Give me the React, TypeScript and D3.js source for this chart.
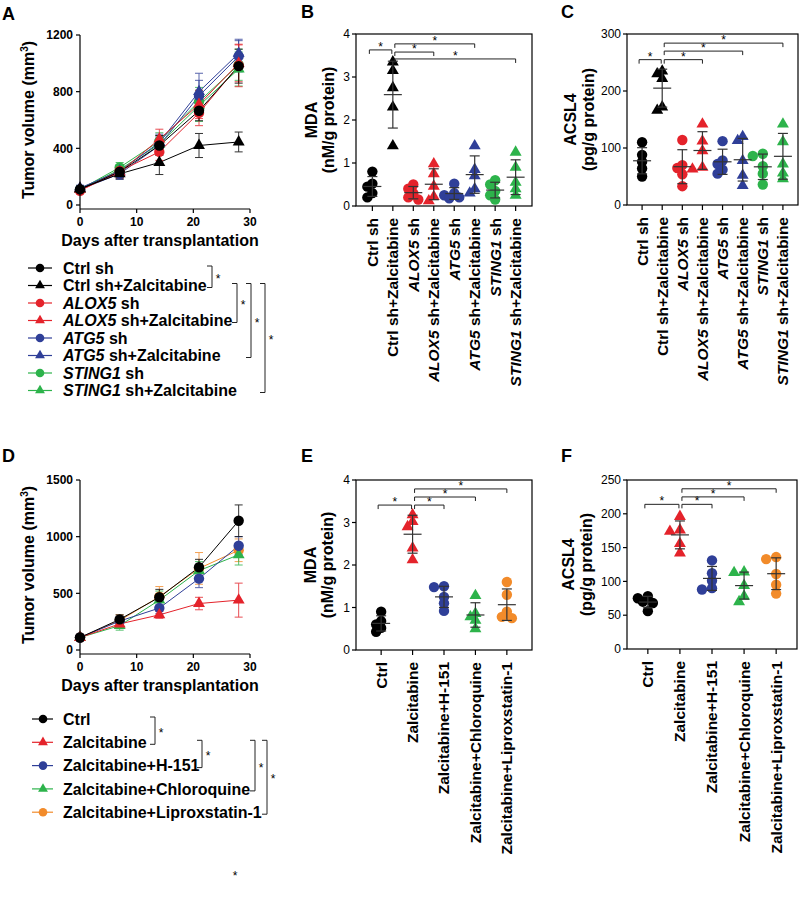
import React from 'react'
import * as d3 from 'd3'

const FONT = '"Liberation Sans", Arial, Helvetica, sans-serif'

const BLACK = '#000000'
const RED = '#e4232b'
const BLUE = '#2f3f98'
const GREEN = '#2db34b'
const ORANGE = '#f28b2a'
const BAR = '#333333'

const GENES = ['ALOX5', 'ATG5', 'STING1']

// ---- A: tumor growth, shRNA groups (mean, SD)
const days = [0, 7, 14, 21, 28]
const groupsA = ['Ctrl sh', 'Ctrl sh+Zalcitabine', 'ALOX5 sh', 'ALOX5 sh+Zalcitabine',
    'ATG5 sh', 'ATG5 sh+Zalcitabine', 'STING1 sh', 'STING1 sh+Zalcitabine']
const volCtrlSh = [110, 235, 420, 665, 980]
const volCtrlShZal = [115, 220, 300, 420, 445]
const volAlox5Sh = [100, 240, 375, 650, 985]
const volAlox5ShZal = [110, 230, 465, 710, 1000]
const volAtg5Sh = [110, 220, 420, 770, 1050]
const volAtg5ShZal = [120, 240, 440, 800, 1070]
const volSting1Sh = [110, 265, 450, 730, 990]
const volSting1ShZal = [110, 250, 430, 700, 960]
const sdCtrlSh = [20, 40, 70, 70, 120]
const sdCtrlShZal = [20, 35, 85, 85, 70]
const sdAlox5Sh = [20, 40, 60, 90, 150]
const sdAlox5ShZal = [20, 40, 70, 100, 130]
const sdAtg5Sh = [20, 40, 60, 110, 110]
const sdAtg5ShZal = [20, 40, 60, 130, 100]
const sdSting1Sh = [20, 35, 60, 100, 110]
const sdSting1ShZal = [20, 35, 60, 110, 120]

// ---- B / C: MDA and ACSL4 per mouse, shRNA groups
const mdaB = [
    [0.8, 0.52, 0.45, 0.3, 0.2],
    [3.35, 3.15, 2.75, 2.3, 1.4],
    [0.5, 0.4, 0.3, 0.2, 0.15],
    [0.98, 0.75, 0.46, 0.22, 0.12],
    [0.52, 0.3, 0.25, 0.2, 0.18],
    [1.4, 0.85, 0.7, 0.4, 0.3],
    [0.6, 0.5, 0.35, 0.25, 0.15],
    [1.25, 0.9, 0.55, 0.4, 0.25],
]
const acslC = [
    [110, 88, 76, 64, 50],
    [235, 230, 222, 172, 166],
    [114, 70, 65, 54, 33],
    [142, 112, 95, 66, 63],
    [112, 78, 72, 62, 55],
    [120, 113, 78, 52, 34],
    [90, 86, 68, 55, 36],
    [142, 111, 72, 56, 46],
]

// ---- D: tumor growth, drug groups
const groupsD = ['Ctrl', 'Zalcitabine', 'Zalcitabine+H-151', 'Zalcitabine+Chloroquine', 'Zalcitabine+Liproxstatin-1']
const volCtrl = [110, 270, 465, 730, 1140]
const volZal = [110, 230, 310, 410, 440]
const volH151 = [110, 255, 370, 630, 920]
const volChloro = [110, 215, 440, 700, 840]
const volLiprox = [110, 260, 470, 720, 880]
const sdCtrl = [20, 40, 70, 70, 140]
const sdZal = [20, 30, 30, 55, 150]
const sdH151 = [20, 40, 50, 80, 80]
const sdChloro = [20, 40, 80, 80, 90]
const sdLiprox = [20, 50, 90, 140, 100]

// ---- E / F
const mdaE = [
    [0.9, 0.68, 0.6, 0.52, 0.43],
    [3.18, 3.02, 2.9, 2.4, 2.12],
    [1.5, 1.48, 1.25, 1.1, 0.92],
    [1.28, 0.86, 0.78, 0.7, 0.5],
    [1.6, 1.3, 0.9, 0.78, 0.75],
]
const acslF = [
    [78, 75, 70, 68, 56],
    [196, 176, 174, 156, 142],
    [131, 112, 101, 90, 88],
    [114, 113, 94, 78, 70],
    [136, 133, 111, 95, 82],
]

const colorsA = [BLACK, BLACK, RED, RED, BLUE, BLUE, GREEN, GREEN]
const shapesA = ['circle', 'triangle', 'circle', 'triangle', 'circle', 'triangle', 'circle', 'triangle']
const colorsD = [BLACK, RED, BLUE, GREEN, ORANGE]
const shapesD = ['circle', 'triangle', 'circle', 'triangle', 'circle']

const symbolPath = (shape: string, size: number) =>
    d3.symbol().type(shape === 'circle' ? d3.symbolCircle : d3.symbolTriangle).size(size)() as string

const Marker = ({ shape, x, y, color, big = true }: any) => {
    const size = shape === 'circle' ? (big ? 85 : 58) : (big ? 62 : 42)
    return <path d={symbolPath(shape, size)} transform={`translate(${x},${y})`} fill={color} />
}

const Label = ({ text }: { text: string }) => {
    const gene = GENES.find(g => text.startsWith(g))
    if (!gene) return <>{text}</>
    return <><tspan fontStyle="italic">{gene}</tspan>{text.slice(gene.length)}</>
}

const Letter = ({ x, y, t }: any) =>
    <text x={x} y={y} fontSize={18} fontWeight="bold">{t}</text>

const Star = ({ x, y }: any) =>
    <text x={x} y={y} fontSize={12} textAnchor="middle">*</text>

function GrowthPanel({ y0, y1, yMax, yTicks, vals, errs, colors, shapes, tickBase, titleBase }: any) {
    const x = d3.scaleLinear().domain([0, 30]).range([80, 250])
    const y = d3.scaleLinear().domain([0, yMax]).range([y0, y1])
    const axisY = y0 + 4
    const line = d3.line<number>().x((_, i) => x(days[i])).y(d => y(d))
    const order = d3.range(vals.length).reverse()
    return (
        <g>
            {order.map(k => <path key={'l' + k} d={line(vals[k]) as string} fill="none" stroke={colors[k]} strokeWidth={1} />)}
            {order.map(k => vals[k].map((v: number, i: number) => {
                const cx = x(days[i]), hi = y(v + errs[k][i]), lo = y(v - errs[k][i])
                return (
                    <g key={`e${k}-${i}`} stroke={colors[k]} strokeWidth={1} opacity={0.8}>
                        <line x1={cx} x2={cx} y1={lo} y2={hi} />
                        <line x1={cx - 4} x2={cx + 4} y1={hi} y2={hi} />
                        <line x1={cx - 4} x2={cx + 4} y1={lo} y2={lo} />
                    </g>
                )
            }))}
            {order.map(k => vals[k].map((v: number, i: number) =>
                <Marker key={`m${k}-${i}`} shape={shapes[k]} x={x(days[i])} y={y(v)} color={colors[k]} />))}
            <g stroke="#000" strokeWidth={1.2}>
                <line x1={80} x2={80} y1={y1} y2={axisY} />
                <line x1={80} x2={250} y1={axisY} y2={axisY} />
                {yTicks.map((t: number) => <line key={'yt' + t} x1={76} x2={80} y1={y(t)} y2={y(t)} />)}
                {[0, 10, 20, 30].map(t => <line key={'xt' + t} x1={x(t)} x2={x(t)} y1={axisY} y2={axisY + 4} />)}
            </g>
            {yTicks.map((t: number) =>
                <text key={'yl' + t} x={73} y={y(t)} dy="0.35em" textAnchor="end" fontSize={12} fontWeight="bold">{t}</text>)}
            {[0, 10, 20, 30].map(t =>
                <text key={'xl' + t} x={x(t)} y={tickBase} textAnchor="middle" fontSize={12} fontWeight="bold">{t}</text>)}
            <text x={160} y={titleBase} textAnchor="middle" fontSize={16} fontWeight="bold">Days after transplantation</text>
            <text transform={`translate(28,${(y0 + y1) / 2}) rotate(-90)`} dy="0.35em" textAnchor="middle" fontSize={16} fontWeight="bold">
                Tumor volume (mm<tspan dy={-6} fontSize={10}>3</tspan><tspan dy={6}>)</tspan>
            </text>
        </g>
    )
}

function swarm(vals: number[], y: (v: number) => number) {
    const placed: { dx: number, py: number }[] = []
    const idx = d3.range(vals.length).sort((a, b) => vals[b] - vals[a])
    const out: number[] = new Array(vals.length).fill(0)
    for (const i of idx) {
        const py = y(vals[i])
        const cand = [0, -5, 5, -10, 10]
        let dx = 0
        for (const c of cand) {
            if (placed.every(p => Math.hypot(p.dx - c, p.py - py) >= 5.5)) { dx = c; break }
        }
        placed.push({ dx, py })
        out[i] = dx
    }
    return out
}

function ScatterPanel({ x0, x1, yTop, yBot, yMax, yTicks, cats, vals, colors, shapes, pad, sig, lab1, lab2, lx1, lx2 }: any) {
    const x = d3.scalePoint<string>().domain(cats).range([x0, x1]).padding(pad)
    const y = d3.scaleLinear().domain([0, yMax]).range([yBot, yTop])
    return (
        <g>
            {vals.map((g: number[], k: number) => {
                const cx = x(cats[k]) as number
                const off = swarm(g, y)
                return g.map((v, i) =>
                    <Marker key={`p${k}-${i}`} shape={shapes[k]} x={cx + off[i]} y={y(v)} color={colors[k]} />)
            })}
            {vals.map((g: number[], k: number) => {
                const cx = x(cats[k]) as number
                const m = d3.mean(g) as number, sd = d3.deviation(g) as number
                return (
                    <g key={'bar' + k} stroke={BAR} strokeWidth={1.2}>
                        <line x1={cx} x2={cx} y1={y(m - sd)} y2={y(m + sd)} />
                        <line x1={cx - 9} x2={cx + 9} y1={y(m)} y2={y(m)} />
                        <line x1={cx - 5} x2={cx + 5} y1={y(m + sd)} y2={y(m + sd)} />
                        <line x1={cx - 5} x2={cx + 5} y1={y(m - sd)} y2={y(m - sd)} />
                    </g>
                )
            })}
            <g stroke="#000" strokeWidth={1.2} fill="none">
                <rect x={x0} y={yTop} width={x1 - x0} height={yBot - yTop} />
                {yTicks.map((t: number) => <line key={'t' + t} x1={x0 - 4} x2={x0} y1={y(t)} y2={y(t)} />)}
                {cats.map((c: string) => <line key={'c' + c} x1={x(c)} x2={x(c)} y1={yBot} y2={yBot + 5} />)}
            </g>
            {yTicks.map((t: number) =>
                <text key={'tl' + t} x={x0 - 6} y={y(t)} dy="0.35em" textAnchor="end" fontSize={12}>{t}</text>)}
            {cats.map((c: string) =>
                <text key={'cl' + c} transform={`translate(${x(c)},${yBot + 12}) rotate(-90)`} dy="0.35em"
                    textAnchor="end" fontSize={15.5} fontWeight="bold"><Label text={c} /></text>)}
            {sig.map(([a, b, v]: number[], i: number) => {
                const xa = (x(cats[a]) as number) + (i === 0 ? -3 : 2)
                const xb = (x(cats[b]) as number) + (i === 0 ? -1 : 0)
                const yy = y(v)
                return (
                    <g key={'s' + i}>
                        <path d={`M${xa},${yy + 4}V${yy}H${xb}V${yy + 4}`} fill="none" stroke="#222" strokeWidth={1} />
                        <Star x={(xa + xb) / 2} y={yy + 1} />
                    </g>
                )
            })}
            <text transform={`translate(${lx1},${(yTop + yBot) / 2}) rotate(-90)`} dy="0.35em" textAnchor="middle" fontSize={16} fontWeight="bold">{lab1}</text>
            <text transform={`translate(${lx2},${(yTop + yBot) / 2}) rotate(-90)`} dy="0.35em" textAnchor="middle" fontSize={16} fontWeight="bold">{lab2}</text>
        </g>
    )
}

function Legend({ groups, colors, shapes, top, step, lineX, brackets }: any) {
    const rowY = (i: number) => top + i * step
    return (
        <g>
            {groups.map((g: string, i: number) => (
                <g key={g}>
                    <line x1={lineX[0]} x2={lineX[2]} y1={rowY(i)} y2={rowY(i)} stroke={colors[i]} strokeWidth={1.2} />
                    <Marker shape={shapes[i]} x={lineX[1]} y={rowY(i)} color={colors[i]} big={false} />
                    <text x={63} y={rowY(i)} dy="0.36em" fontSize={16} fontWeight="bold"><Label text={g} /></text>
                </g>
            ))}
            {brackets.map(([a, b, bx]: number[], i: number) => {
                const t = rowY(a) - 2, u = rowY(b) + 2
                return (
                    <g key={'b' + i}>
                        <path d={`M${bx - 5},${t}H${bx}V${u}H${bx - 5}`} fill="none" stroke="#222" strokeWidth={1} />
                        <Star x={bx + 6} y={(t + u) / 2 + 6} />
                    </g>
                )
            })}
        </g>
    )
}

export default function App() {
    const volA = [volCtrlSh, volCtrlShZal, volAlox5Sh, volAlox5ShZal, volAtg5Sh, volAtg5ShZal, volSting1Sh, volSting1ShZal]
    const sdA = [sdCtrlSh, sdCtrlShZal, sdAlox5Sh, sdAlox5ShZal, sdAtg5Sh, sdAtg5ShZal, sdSting1Sh, sdSting1ShZal]
    const volD = [volCtrl, volZal, volH151, volChloro, volLiprox]
    const sdD = [sdCtrl, sdZal, sdH151, sdChloro, sdLiprox]
    return (
        <svg width={800} height={906} style={{ position: 'absolute', left: 0, top: 0 }} fontFamily={FONT}>
            <rect width={800} height={906} fill="#fff" />
            <Letter x={2} y={20} t="A" />
            <Letter x={301} y={18} t="B" />
            <Letter x={561} y={18} t="C" />
            <Letter x={2} y={462} t="D" />
            <Letter x={301} y={462} t="E" />
            <Letter x={561} y={462} t="F" />

            <GrowthPanel y0={205} y1={35} yMax={1200} yTicks={[0, 400, 800, 1200]} vals={volA} errs={sdA}
                colors={colorsA} shapes={shapesA} tickBase={226} titleBase={246} />
            <Legend groups={groupsA} colors={colorsA} shapes={shapesA} top={268} step={17.5} lineX={[28, 40, 52]}
                brackets={[[0, 1, 212], [1, 3, 237], [1, 5, 251], [1, 7, 265]]} />

            <ScatterPanel x0={356} x1={532} yTop={34} yBot={206} yMax={4} yTicks={[0, 1, 2, 3, 4]} cats={groupsA}
                vals={mdaB} colors={colorsA} shapes={shapesA} pad={0.8}
                sig={[[0, 1, 3.63], [1, 3, 3.58], [1, 5, 3.77], [1, 7, 3.42]]}
                lab1="MDA" lab2="(nM/g protein)" lx1={311} lx2={328} />
            <ScatterPanel x0={627} x1={798} yTop={34} yBot={205} yMax={300} yTicks={[0, 100, 200, 300]} cats={groupsA}
                vals={acslC} colors={colorsA} shapes={shapesA} pad={0.75}
                sig={[[0, 1, 255], [1, 3, 255], [1, 5, 270], [1, 7, 284]]}
                lab1="ACSL4" lab2="(pg/g protein)" lx1={570} lx2={588} />

            <GrowthPanel y0={650} y1={480} yMax={1500} yTicks={[0, 500, 1000, 1500]} vals={volD} errs={sdD}
                colors={colorsD} shapes={shapesD} tickBase={671} titleBase={691} />
            <Legend groups={groupsD} colors={colorsD} shapes={shapesD} top={719} step={23.3} lineX={[32, 43, 53]}
                brackets={[[0, 1, 155], [1, 2, 202], [1, 3, 255], [1, 4, 267]]} />

            <ScatterPanel x0={356} x1={532} yTop={480} yBot={650} yMax={4} yTicks={[0, 1, 2, 3, 4]} cats={groupsD}
                vals={mdaE} colors={colorsD} shapes={shapesD} pad={0.8}
                sig={[[0, 1, 3.41], [1, 2, 3.41], [1, 3, 3.6], [1, 4, 3.79]]}
                lab1="MDA" lab2="(nM/g protein)" lx1={310} lx2={327} />
            <ScatterPanel x0={627} x1={797} yTop={480} yBot={649} yMax={250} yTicks={[0, 50, 100, 150, 200, 250]} cats={groupsD}
                vals={acslF} colors={colorsD} shapes={shapesD} pad={0.65}
                sig={[[0, 1, 214], [1, 2, 214], [1, 3, 225], [1, 4, 237]]}
                lab1="ACSL4" lab2="(pg/g protein)" lx1={568} lx2={586} />

            <Star x={235} y={880} />
        </svg>
    )
}
